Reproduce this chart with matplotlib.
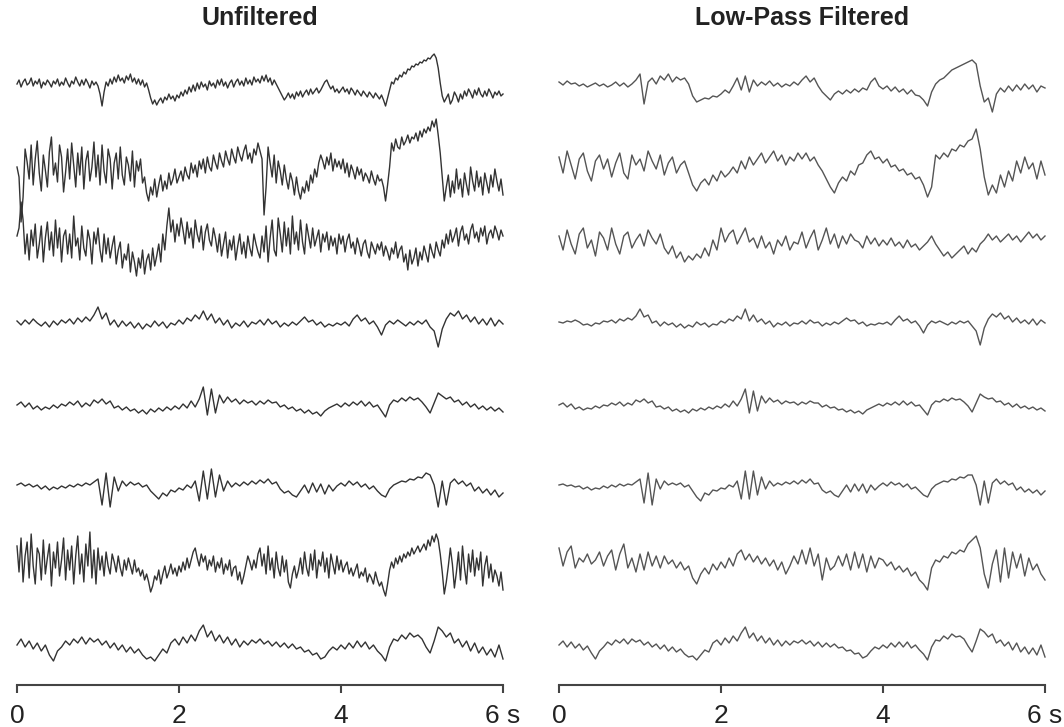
import matplotlib
matplotlib.use("Agg")
import matplotlib.pyplot as plt
import numpy as np

# Eight EEG channels, 6 s each; values in screen units, positive = up.
# The noisy raw channels 1, 2, 3 and 7 are read at 0.025 s, the rest at 0.05 s.
raw_ch1 = [4, 8, 1, 6, 9, 3, 5, 10, 2, 7, 4, 9, 0, 6, 3, 8, 5, 1, 7, 4,
           9, 2, 6, 3, 10, 5, 1, 7, 4, 11, 6, 2, 8, 3, 9, 5, 0, 7, 3, 6,
           2, -6, -18, -4, 6, 2, 9, 4, 11, 6, 13, 7, 10, 5, 12, 8, 14, 6, 10, 4,
           9, 3, 8, 1, 5, -2, -10, -16, -12, -17, -13, -10, -15, -9, -12, -6, -11, -8, -13, -7,
           -10, -4, -8, -2, -6, 1, -4, 3, -3, 5, -1, 6, 1, 4, -2, 7, 2, 5, 0, 8,
           3, 9, 2, 6, 0, 5, 8, 1, 6, 9, 3, 7, 2, 10, 4, 8, 3, 11, 6, 9,
           5, 12, 7, 13, 6, 10, 3, 8, 4, 0, -4, -8, -12, -9, -5, -10, -6, -11, -4, -8,
           -3, -9, -5, -2, -7, -1, -6, -3, 0, -5, -2, 2, 6, 8, 3, -1, 2, -4, -1, -5,
           -2, 1, -4, -1, -6, 0, -3, -7, -2, -5, -8, -3, -6, -9, -4, -7, -10, -5, -8, -11,
           -7, -12, -18, -10, -2, 6, 4, 10, 8, 13, 11, 16, 14, 19, 18, 22, 21, 24, 23, 26,
           25, 28, 27, 30, 29, 32, 34, 30, 20, 5, -8, -14, -10, -6, -16, -12, -4, -8, -14, -6,
           -11, -3, -8, -1, -5, -10, -2, -7, 0, -6, -9, -3, -8, -1, -5, -10, -4, -7, -3, -8,
           -6]
raw_ch2 = [0, -10, -55, -30, 18, 5, -12, 22, -18, 8, 26, -6, -24, 12, -3, -20, 15, 30, -8, 4,
           -15, 22, 10, -25, -5, 18, -12, 24, 2, -20, 14, -8, 20, -22, 6, 16, -14, 0, 25, -10,
           12, -18, 22, -4, -16, 18, 8, -22, 4, 14, -12, 20, -8, -18, 10, 2, -14, 16, -20, 6,
           -4, 8, -16, -10, -26, -34, -20, -28, -12, -30, -18, -8, -24, -14, -22, -6, -18, -12, -2, -16,
           -10, -4, -14, 0, -8, -12, 4, -6, 2, -10, 6, -2, 8, -6, 10, 0, -4, 12, 4, -2,
           14, 6, 0, 16, 8, 2, 18, 10, 4, 20, 12, 6, 16, 22, 8, 14, 4, 18, 12, 24,
           16, 8, -48, -20, 20, 4, -10, 12, -16, 6, -4, -18, 2, -12, -22, -6, -14, -28, -10, -24,
           -32, -20, -26, -14, -24, -8, -16, -2, -10, 4, 12, 6, -2, 10, 2, 14, -4, 8, 0, 6,
           -2, 8, -6, 4, -10, 2, -4, -12, 0, -8, -2, -14, -6, -10, -16, -4, -12, -18, -8, -14,
           -12, -20, -34, -18, 0, 24, 16, 28, 20, 18, 30, 22, 26, 32, 24, 30, 28, 34, 26, 36,
           30, 38, 34, 40, 36, 46, 40, 48, 32, 14, -10, -34, -20, -8, -30, -14, -26, -2, -22, -12,
           -30, -6, -18, -28, 0, -14, -24, -4, -20, -10, -28, -6, -16, -26, -8, -20, -2, -14, -24, -12,
           -28]
raw_ch3 = [4, 12, 38, 20, -14, 6, -20, 10, -6, 16, -18, -4, 14, -22, 2, 18, -10, 8, -16, 20,
           -8, 12, -22, 4, 10, -14, 6, -18, 24, -6, 2, -20, 14, -8, -16, 10, 0, -24, 8, -4,
           12, -10, -22, 6, -14, 2, -18, -6, 4, -24, -10, -2, -28, -14, -20, -4, -32, -12, -22, -36,
           -18, -28, -10, -34, -20, -14, -30, -8, -26, -16, -4, -22, 6, -10, 14, 32, 8, 20, -2, 16,
           4, 22, 10, -4, 18, 2, 12, -8, 20, 6, -2, 14, -10, 8, 16, 0, -6, 12, 2, -12,
           6, -16, -4, 8, -18, 0, -10, 4, -20, -6, 6, -14, -2, -18, 4, -8, -16, 6, -4, -12,
           -18, 4, -12, 14, -22, 2, 20, -10, -16, 22, 6, -12, 18, -6, 12, -14, 24, -4, 8, -10,
           20, -2, -14, 16, 4, -8, 12, -6, 2, 10, -12, 6, -2, 8, -10, 4, -6, 2, -14, 6,
           -4, 4, -12, 0, 6, -8, -2, -14, 2, -6, -16, -4, 0, -12, -18, -2, -8, -14, -4, -10,
           -2, -16, -6, -12, -20, -8, -14, -2, -18, -10, -6, -22, -14, -30, -10, -24, -18, -8, -26, -12,
           -20, -6, -14, -22, -4, -12, -18, -2, -10, -16, 0, -8, 6, -4, 10, -2, 4, 12, -6, 8,
           14, 0, 6, -4, 10, 16, 2, 8, -2, 12, 4, 14, -4, 6, 10, 2, 14, 8, 0, 10,
           4]
raw_ch4 = [2, -2, 3, -1, 4, 0, -3, 1, -4, 2, -2, 3, 0, 4, -1, 5, 1, 6, 2, 8,
           16, 4, 10, -2, 3, -4, 2, -3, 1, -5,
           0, -6, -1, -4, 2, -3, 1, -5, 0, -2,
           3, -1, 5, 2, 8, 4, 12, 3, 9, 0,
           5, -2, 3, -5, 0, -3, 2, -4, 1, -1,
           3, -2, 4, -1, 2, -4, 0, -3, 1, -2,
           2, 6, 1, 3, -2, 1, -4, -1, -3, 0,
           -2, 1, -3, 4, 8, 2, 5, -1, 2, -4,
           -12, -2, 2, -1, 3, 0, -3, 1, -2, 2,
           -1, 3, -4, -8, -24, -6, 4, 10, 7, 12,
           4, 8, 1, 6, -1, 4, -2, 5, -3, 3, -1]
raw_ch5 = [0, 3, -2, 2, -4, -1, -5, -2, -4, 0, -3, 1, -1, 3, 0, 4, -2, 2, -1, 5,
           2, 6, 1, 4, -3, -1, -5, -2, -6, -4,
           -8, -5, -9, -4, -7, -3, -6, -2, -5, -1,
           -4, 1, -3, 4, -2, 6, 18, -10, 16, -8,
           10, 2, 8, 3, 6, 1, 5, 2, 4, 0,
           4, 1, 5, 2, 3, -2, 0, -4, -2, -6,
           -4, -8, -5, -9, -7, -11, -6, -3, -1, 1,
           -2, 2, -1, 3, 0, 4, -1, 3, -2, 0,
           -6, -12, 0, 5, 3, 7, 4, 8, 5, 7,
           3, -2, -8, 2, 12, 9, 6, 8, 3, 5,
           0, 3, -2, 1, -4, -1, -5, -2, -6, -3, -7]
raw_ch6 = [2, 4, 1, 3, 0, 2, -2, 1, -3, 0, -2, 1, -1, 2, 0, 3, 1, 4, 2, 5,
           8, -18, 14, -20, 10, -4, 6, 1, 5, 2,
           4, 0, 2, -4, -8, -12, -6, -9, -3, -5,
           -1, -3, 2, -1, 6, -14, 16, -12, 18, -10,
           12, -4, 6, 0, 4, 1, 5, 2, 6, 3,
           7, 4, 8, 3, 5, -2, -6, -4, -8, -10,
           -4, 2, -6, 4, -5, 3, -7, 2, -4, 1,
           4, 1, 6, 2, 5, 0, 3, -2, 1, -4,
           -8, -10, -2, 2, 4, 6, 5, 8, 7, 10,
           9, 14, 12, 2, -20, 6, -18, 4, 8, 3,
           6, 1, 4, -4, 0, -6, -2, -8, -3, -10, -6]
raw_ch7 = [16, -10, 24, -20, 6, 20, -16, 28, -4, -22, 14, 8, -18, 22, -12, 4, 18, -24, 10, -6,
           20, -14, 2, 24, -18, 12, -8, 16, -22, 6, 26, -12, 8, -20, 18, -4, 30, -16, 12, -22,
           14, -8, 6, -14, 10, -4, -12, 8, 0, -10, 6, -6, -14, 2, -8, 4, -4, -12, 2, -10,
           -6, -14, -8, -18, -12, -20, -30, -24, -14, -18, -8, -22, -12, -4, -16, -10, -2, -12, -6, -14,
           -4, -10, 0, -8, 4, -6, 2, 10, 14, 4, -4, 8, 0, 6, -8, 2, -4, 6, -10, 0,
           -6, 4, -12, -2, -8, 2, -14, -6, -4, -18, -10, -22, -14, -4, 6, 0, -8, 2, -6, 8,
           14, -4, 8, -12, 16, -8, 4, -16, 10, -6, -14, 6, -10, 2, -20, -26, -12, -4, -16, -8,
           4, -12, 10, -6, -14, 8, -8, 12, -16, 2, -4, 10, -10, 4, -16, 8, -2, -12, 6, -8,
           2, -10, -4, 0, -12, -6, -14, -8, -2, -16, -10, -14, -6, -20, -12, -16, -22, -10, -18, -24,
           -20, -28, -34, -22, -8, 0, -6, 4, -2, 6, 0, 8, 4, 10, 6, 14, 8, 12, 16, 10,
           14, 18, 12, 22, 16, 26, 20, 28, 22, 8, -10, -32, -20, -4, 14, -2, -26, -10, 10, -18,
           16, -6, -22, 8, -10, 12, -14, 4, -8, 10, -24, -4, 6, -16, -2, -20, -8, -14, -24, -10,
           -28]
raw_ch8 = [0, 6, -2, 4, -4, 2, -6, 0, -10, -16, -6, -2, 4, 0, 6, 2, 8, 1, 7, 3,
           6, 0, 4, -3, 2, -5, 0, -7, -2, -8,
           -4, -10, -14, -12, -16, -10, -4, -8, 2, 6,
           0, 8, 2, 10, 4, 14, 20, 8, 14, 4,
           10, 2, 8, 0, 6, -2, 4, 0, 5, 2,
           6, 1, 4, -1, 3, -2, 2, -3, 1, -4,
           -2, -7, -5, -10, -8, -14, -12, -6, -2, -5,
           0, -4, 2, -3, 4, -2, 3, -4, 0, -6,
           -10, -16, -2, 6, 4, 10, 6, 12, 8, 10,
           6, -2, -8, 4, 18, 14, 8, 12, 2, 6,
           -2, 4, -6, 2, -8, -2, -10, -4, -12, 0, -14]

lp_ch1 = [6, 3, 7, 4, 5, 2, 4, 1, 3, 5, 2, 4, 1, 3, 6, 2, 5, 1, 4, 8,
          14, -16, 6, 10, 4, 12, 8, 14, 6, 11,
          8, 10, 4, -8, -14, -12, -10, -11, -8, -9,
          -6, -2, -5, 2, 10, -2, 12, -4, 8, 2,
          6, 3, 7, 2, 5, 1, 4, 2, 6, 3,
          8, 12, 6, 10, 2, -4, -8, -12, -6, -3,
          -6, -2, -5, -1, -4, 0, -2, 6, 10, 2,
          -1, 2, -3, 1, -4, -1, -6, -2, -7, -8,
          -12, -18, -4, 4, 8, 10, 14, 18, 20, 22,
          24, 26, 28, 24, 2, -14, -10, -24, -6, 0,
          -4, 2, -3, 3, -2, 4, -1, 3, -4, 2, 0]
lp_ch2 = [10, -6, 16, 2, -12, 8, 14, -4, -14, 6, 12, -2, 8, -10, 4, 14, -6, -12, 12, 2,
          8, -4, 16, 6, -2, 12, -8, 4, 10, -6,
          2, 6, -6, -18, -24, -16, -12, -18, -8, -14,
          -4, -10, -6, 0, -6, 6, -2, 10, 2, 8,
          14, 4, 10, 16, 6, 12, 2, 10, 6, 14,
          8, 14, 6, 10, 2, -4, -12, -20, -26, -16,
          -10, -14, -4, -8, 2, 4, 12, 16, 8, 10,
          4, 8, 0, 2, -4, -2, -8, -6, -12, -10,
          -18, -30, -20, 12, 8, 14, 10, 18, 16, 22,
          20, 26, 28, 38, 18, -10, -28, -18, -26, -8,
          -20, -4, -14, 6, -6, 10, -2, 4, -12, 6, -8]
lp_ch3 = [6, -8, 12, -2, -12, 8, 14, -6, 2, -14, 10, 4, -8, 14, -2, -12, 6, 10, -6, 2,
          8, -4, 12, 4, -2, 8, -6, -12, -4, -16,
          -10, -20, -14, -18, -12, -16, -6, -14, 2, -8,
          14, 0, 8, 12, -2, 6, 14, 0, 4, -6,
          6, -6, 0, -12, 2, -4, 6, -8, 0, -2,
          10, -6, 4, 12, -8, 2, 14, -2, 8, -6,
          6, -2, 8, 2, 0, -6, 6, -2, 4, -4,
          2, -3, 4, -4, 0, -6, 2, -5, -2, -8,
          -4, 0, 6, -2, -8, -14, -10, -16, -12, -8,
          -4, -12, -6, -10, -2, 2, 8, 2, 6, 0,
          4, 8, 2, 6, 0, 5, 10, 4, 8, 2, 6]
lp_ch4 = [1, 0, 2, 1, 3, 1, -2, -1, -3, 0, -1, 2, 1, 3, 0, 4, 2, 5, 3, 7,
          14, 6, 8, 0, 2, -3, 1, -2, 0, -4,
          -1, -5, -2, -4, 1, -2, 0, -4, -1, -2,
          2, 0, 4, 2, 7, 4, 14, 2, 8, 1,
          4, -1, 2, -4, 0, -2, 1, -3, 0, -1,
          2, -1, 3, 0, 1, -3, 0, -2, 1, -1,
          2, 5, 2, 3, -1, 1, -3, -1, -2, 0,
          -1, 1, -2, 3, 7, 2, 4, 0, 2, -3,
          -10, -2, 2, 0, 2, 0, -2, 1, -1, 2,
          0, 2, -3, -8, -22, -5, 4, 9, 6, 10,
          4, 7, 1, 5, 0, 3, -1, 4, -2, 3, 0]
lp_ch5 = [0, 2, -2, 1, -4, -2, -5, -3, -4, -1, -3, 0, -1, 2, 0, 3, -1, 2, 0, 5,
          3, 6, 2, 4, -2, -1, -4, -2, -6, -4,
          -7, -5, -8, -4, -6, -3, -5, -2, -4, -1,
          -3, 1, -2, 4, -1, 6, 16, -8, 14, -6,
          9, 2, 7, 3, 5, 1, 4, 2, 3, 0,
          3, 1, 4, 2, 2, -2, 0, -3, -2, -5,
          -4, -7, -5, -8, -6, -9, -5, -3, -1, 1,
          -1, 2, 0, 3, 0, 4, 0, 3, -1, 0,
          -5, -10, 0, 4, 3, 6, 4, 7, 5, 6,
          3, -1, -7, 2, 11, 8, 6, 7, 3, 4,
          0, 2, -2, 1, -3, -1, -4, -2, -5, -3, -6]
lp_ch6 = [2, 3, 1, 2, 0, 1, -2, 0, -3, -1, -2, 1, -1, 2, 0, 3, 1, 3, 2, 5,
          8, -16, 14, -18, 8, -2, 6, 2, 4, 2,
          4, 0, 2, -4, -10, -14, -6, -8, -3, -4,
          -1, -2, 2, 0, 6, -12, 16, -12, 16, -8,
          10, -2, 6, 1, 4, 2, 5, 3, 6, 3,
          7, 4, 8, 3, 4, -3, -6, -4, -8, -10,
          -4, 2, -5, 3, -4, 3, -6, 2, -3, 1,
          4, 1, 5, 2, 4, 0, 3, -2, 0, -4,
          -8, -10, -2, 2, 4, 6, 5, 8, 7, 10,
          9, 12, 12, 2, -18, 6, -16, 4, 8, 3,
          6, 2, 4, -3, 0, -5, -2, -6, -3, -8, -4]
lp_ch7 = [12, -6, 8, 14, -8, 2, -2, 6, -4, 0, 8, -6, 4, 10, -10, 6, 16, -8, 2, -12,
          6, -10, 8, -6, 4, -8, 4, -4, 0, -8,
          -2, -10, -6, -18, -24, -14, -8, -14, -4, -10,
          -2, -8, 2, -6, 6, 10, 0, 6, -2, 4,
          -4, 2, -6, 0, -10, -2, -14, -6, 4, -4,
          10, -4, 12, -6, 6, -20, 2, -10, -6, 4,
          -6, 6, -10, 8, -8, 6, -12, 4, -8, 2,
          0, -6, -2, -10, -6, -12, -8, -16, -12, -20,
          -24, -30, -8, 0, -2, 4, 2, 8, 6, 10,
          8, 16, 20, 24, 12, -14, -28, -4, 10, -22,
          12, -18, 8, -8, 6, -16, 2, -10, -4, -14, -20]
lp_ch8 = [0, 4, -2, 3, -3, 1, -5, -1, -8, -14, -6, -2, 3, 0, 5, 2, 6, 1, 6, 3,
          5, 0, 3, -2, 1, -4, 0, -6, -2, -7,
          -4, -9, -12, -11, -15, -10, -5, -7, 2, 5,
          0, 7, 2, 9, 4, 12, 18, 7, 12, 4,
          9, 2, 7, 0, 5, -1, 4, 0, 4, 2,
          5, 1, 4, -1, 3, -2, 2, -2, 1, -3,
          -2, -6, -5, -9, -8, -13, -11, -6, -2, -4,
          0, -3, 2, -2, 3, -2, 3, -3, 0, -5,
          -9, -15, -2, 5, 4, 9, 6, 11, 8, 9,
          6, -1, -7, 4, 16, 13, 8, 11, 2, 5,
          -1, 3, -5, 2, -7, -2, -9, -3, -10, 0, -12]

raw_channels = [raw_ch1, raw_ch2, raw_ch3, raw_ch4, raw_ch5, raw_ch6, raw_ch7, raw_ch8]
lp_channels = [lp_ch1, lp_ch2, lp_ch3, lp_ch4, lp_ch5, lp_ch6, lp_ch7, lp_ch8]

tick_values = [0, 2, 4, 6]
tick_labels = ["0", "2", "4", "6 s"]
panel_titles = ["Unfiltered", "Low-Pass Filtered"]

# vertical position of each channel's baseline (figure pixels from top)
raw_offsets = [88, 167, 240, 323, 405, 487, 562, 645]
lp_offsets = [88, 167, 242, 323, 405, 487, 560, 645]

W, H = 1064, 727
fig = plt.figure(figsize=(W / 100, H / 100), dpi=100)
fig.patch.set_facecolor("white")

title_font = ["Liberation Sans Narrow", "Liberation Sans", "DejaVu Sans"]
tick_font = ["Liberation Sans", "DejaVu Sans"]


def draw_panel(x0, x1, channels, offsets, color, lw, title):
    ax = fig.add_axes([x0 / W, 0, (x1 - x0) / W, 1])
    ax.set_xlim(0, 6)
    ax.set_ylim(H, 0)
    for vals, base in zip(channels, offsets):
        t = np.linspace(0, 6, len(vals))
        ax.plot(t, base - np.array(vals), color=color, lw=lw, clip_on=False)

    for side in ["left", "right", "top"]:
        ax.spines[side].set_visible(False)
    ax.spines["bottom"].set_position(("data", 685))
    ax.spines["bottom"].set_bounds(0, 6)
    ax.spines["bottom"].set_color("#444444")
    ax.spines["bottom"].set_linewidth(1.5)
    ax.set_yticks([])
    ax.set_xticks(tick_values)
    ax.set_xticklabels(tick_labels, fontsize=19, family=tick_font, color="#222222")
    ax.tick_params(axis="x", direction="out", length=6, width=1.5,
                   color="#444444", pad=8)
    ax.patch.set_alpha(0)

    ax.text(3, 18, title, ha="center", va="center", fontsize=18,
            fontweight="bold", family=title_font, color="#222222")
    return ax


draw_panel(17, 503, raw_channels, raw_offsets, "#333333", 1.0, panel_titles[0])
draw_panel(559, 1045, lp_channels, lp_offsets, "#555555", 1.0, panel_titles[1])

fig.savefig("out.png", dpi=100)
